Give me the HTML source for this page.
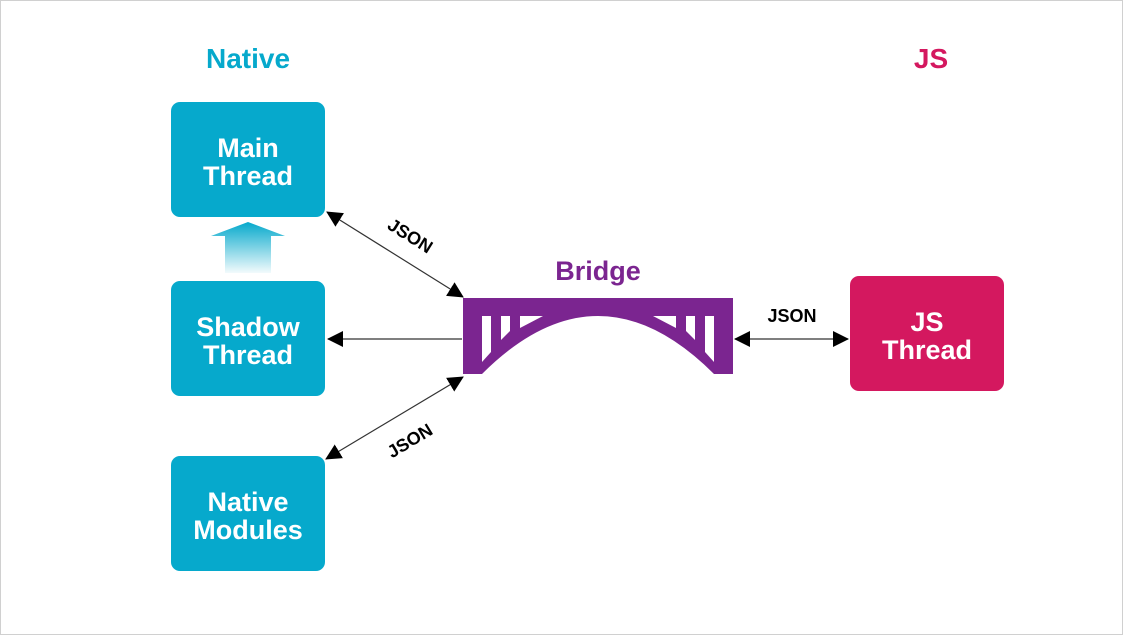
<!DOCTYPE html>
<html><head><style>
html,body{margin:0;padding:0;background:#fff;}
svg{display:block;}
text{font-family:"Liberation Sans",sans-serif;font-weight:bold;}
</style></head><body>
<svg width="1123" height="635" viewBox="0 0 1123 635" xmlns="http://www.w3.org/2000/svg">
<defs>
<linearGradient id="g" x1="0" y1="0" x2="0" y2="1">
<stop offset="0" stop-color="#06a9cc"/><stop offset="1" stop-color="#06a9cc" stop-opacity="0.05"/>
</linearGradient>
<marker id="ah2" markerWidth="16" markerHeight="16" refX="15" refY="8" orient="auto-start-reverse" markerUnits="userSpaceOnUse" viewBox="0 0 16 16">
<path d="M0,0 L16,8 L0,16 Z" fill="#000"/></marker>
</defs>
<rect x="0.5" y="0.5" width="1122" height="634" fill="#fff" stroke="#d0d0d0"/>
<text x="248" y="68" font-size="28" fill="#06a9cc" text-anchor="middle">Native</text>
<text x="931" y="68" font-size="28" fill="#d4185f" text-anchor="middle">JS</text>
<text x="598" y="280" font-size="27" fill="#7b2590" text-anchor="middle">Bridge</text>

<rect x="171" y="102" width="154" height="115" rx="9" fill="#06a9cc"/>
<text x="248" y="157" font-size="27" fill="#fff" text-anchor="middle">Main</text>
<text x="248" y="185" font-size="27" fill="#fff" text-anchor="middle">Thread</text>
<rect x="171" y="281" width="154" height="115" rx="9" fill="#06a9cc"/>
<text x="248" y="336" font-size="27" fill="#fff" text-anchor="middle">Shadow</text>
<text x="248" y="364" font-size="27" fill="#fff" text-anchor="middle">Thread</text>
<rect x="171" y="456" width="154" height="115" rx="9" fill="#06a9cc"/>
<text x="248" y="511" font-size="27" fill="#fff" text-anchor="middle">Native</text>
<text x="248" y="539" font-size="27" fill="#fff" text-anchor="middle">Modules</text>
<rect x="850" y="276" width="154" height="115" rx="9" fill="#d4185f"/>
<text x="927" y="331" font-size="27" fill="#fff" text-anchor="middle">JS</text>
<text x="927" y="359" font-size="27" fill="#fff" text-anchor="middle">Thread</text>

<path d="M248,222 L285,236 L271,236 L271,273 L225,273 L225,236 L211,236 Z" fill="url(#g)"/>

<path d="M463,298 H733 V374 H714 Q598,258 482,374 H463 Z" fill="#7b2590"/>
<g fill="#fff">
<polygon points="482,316 491,316 491,352 482,362"/>
<polygon points="501,316 510,316 510,331 501,340"/>
<polygon points="520,316 543,316 520,328"/>
<polygon points="714,316 705,316 705,352 714,362"/>
<polygon points="695,316 686,316 686,331 695,340"/>
<polygon points="676,316 653,316 676,328"/>
</g>

<g stroke="#333" stroke-width="1.2" fill="none">
<line x1="327" y1="212" x2="463" y2="297" marker-start="url(#ah2)" marker-end="url(#ah2)"/>
<line x1="462" y1="339" x2="328" y2="339" marker-end="url(#ah2)"/>
<line x1="463" y1="377" x2="326" y2="459" marker-start="url(#ah2)" marker-end="url(#ah2)"/>
<line x1="735" y1="339" x2="848" y2="339" marker-start="url(#ah2)" marker-end="url(#ah2)"/>
</g>
<text x="407" y="241" font-size="18" fill="#000" text-anchor="middle" transform="rotate(32 407 241)">JSON</text>
<text x="413" y="446" font-size="18" fill="#000" text-anchor="middle" transform="rotate(-31 413 446)">JSON</text>
<text x="792" y="322" font-size="18" fill="#000" text-anchor="middle">JSON</text>
</svg>
</body></html>
